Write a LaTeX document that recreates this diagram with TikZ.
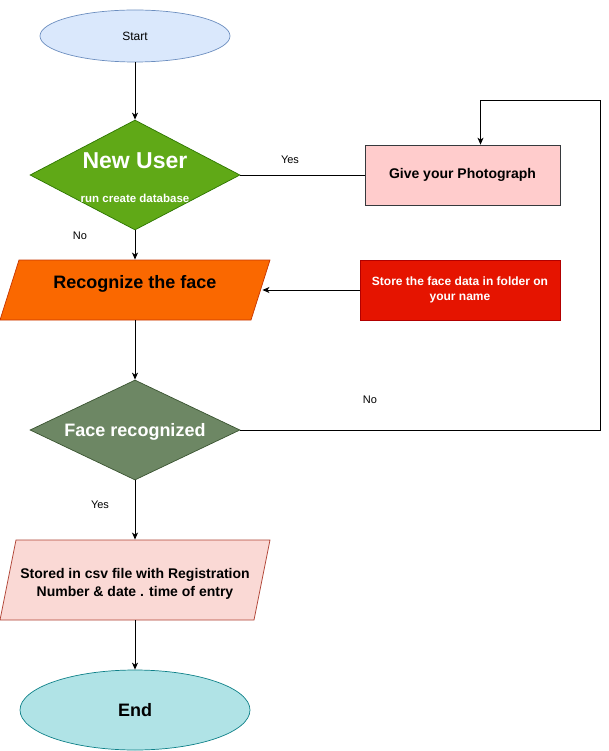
\documentclass[tikz,border=0pt]{standalone}
\usepackage{fontspec}
\setmainfont{Liberation Sans}
\usetikzlibrary{shapes.geometric,arrows.meta}
\definecolor{startfill}{HTML}{DAE8FC}
\definecolor{startline}{HTML}{6C8EBF}
\definecolor{userfill}{HTML}{60A917}
\definecolor{userline}{HTML}{2D7600}
\definecolor{photofill}{HTML}{FFCCCC}
\definecolor{photoline}{HTML}{36393D}
\definecolor{recogfill}{HTML}{FA6800}
\definecolor{recogline}{HTML}{C73500}
\definecolor{storefill}{HTML}{E51400}
\definecolor{storeline}{HTML}{B20000}
\definecolor{facefill}{HTML}{6D8764}
\definecolor{faceline}{HTML}{3A5431}
\definecolor{csvfill}{HTML}{FAD9D5}
\definecolor{csvline}{HTML}{AE4132}
\definecolor{endfill}{HTML}{B0E3E6}
\definecolor{endline}{HTML}{0E8088}
\newcommand{\fsz}[1]{\fontsize{#1}{#1}\selectfont}

\begin{document}
\begin{tikzpicture}[x=1pt, y=-1pt, >={Stealth[length=7pt,width=6pt,inset=2pt]},
  line width=0.9pt,
  term/.style={ellipse, draw, line width=0.7pt, minimum width=190pt, minimum height=52pt},
  decide/.style={diamond, draw, line width=0.7pt, minimum width=210pt, minimum height=110pt, inner sep=0pt},
  io/.style={rectangle, minimum width=254pt, inner sep=0pt},
  act/.style={rectangle, draw, line width=0.7pt, minimum height=60pt},
  lbl/.style={font=\fsz{11}}]
  \useasboundingbox (0,0) rectangle (609,751);
  % Terminals
  \node[term, fill=startfill, draw=startline, font=\fsz{12}] (start) at (135,36) {Start};
  \node[term, fill=endfill, draw=endline, minimum width=230pt, minimum height=80pt,
        font=\fsz{18}\bfseries] (finish) at (135,710) {End};
  % Decisions
  \node[decide, fill=userfill, draw=userline] (newuser) at (135,175) {};
  \node[text=white, font=\fsz{23}\bfseries] (usertitle) at (135,161) {New User};
  \node[text=white, font=\fsz{11.5}\bfseries] (usernote) at (135,198) {run create database};
  \node[decide, fill=facefill, draw=faceline, minimum height=100pt] (face) at (135,430) {};
  \node[text=white, font=\fsz{18}\bfseries] (facetitle) at (135,432) {Face recognized};
  % Input / output (parallelograms)
  \draw[fill=recogfill, draw=recogline, line width=0.7pt]
    (19,260) -- (270,260) -- (251,320) -- (0,320) -- cycle;
  \node[io, minimum height=60pt] (recog) at (135,290) {};
  \node[font=\fsz{18}\bfseries] (recogtitle) at (135,284) {Recognize the face};
  \draw[fill=csvfill, draw=csvline, line width=0.7pt]
    (16,540) -- (270,540) -- (254,620) -- (0,620) -- cycle;
  \node[io, minimum height=80pt] (stored) at (135,580) {};
  \node[align=center, font=\fontsize{14}{18}\selectfont\bfseries] (storedtext) at (135,584)
        {Stored in csv file with Registration\\Number \& date . time of entry};
  % Actions
  \node[act, fill=photofill, draw=photoline, minimum width=195pt,
        font=\fsz{14}\bfseries] (give) at (462.5,175) {Give your Photograph};
  \node[act, fill=storefill, draw=storeline, minimum width=200pt, text=white, align=center,
        font=\fontsize{12}{15}\selectfont\bfseries] (store) at (460,290)
        {Store the face data in folder on\\your name};
  % Connectors
  \draw[->] (start) -- (newuser);
  \draw (newuser) -- (give);
  \draw[->] (newuser) -- (recog);
  \draw[->] (store) -- (recog);
  \draw[->] (recog) -- (face);
  \draw[->] (face) -- (stored);
  \draw[->] (stored) -- (finish);
  \coordinate (loop) at (600,100);
  \draw[->] (face.east) -| (loop) -| ([xshift=18pt]give.north);
  % Branch labels
  \node[lbl] (yesuser) at (290,160) {Yes};
  \node[lbl] (nouser) at (80,236) {No};
  \node[lbl] (noface) at (370,400) {No};
  \node[lbl] (yesface) at (100,505) {Yes};
\end{tikzpicture}
\end{document}
